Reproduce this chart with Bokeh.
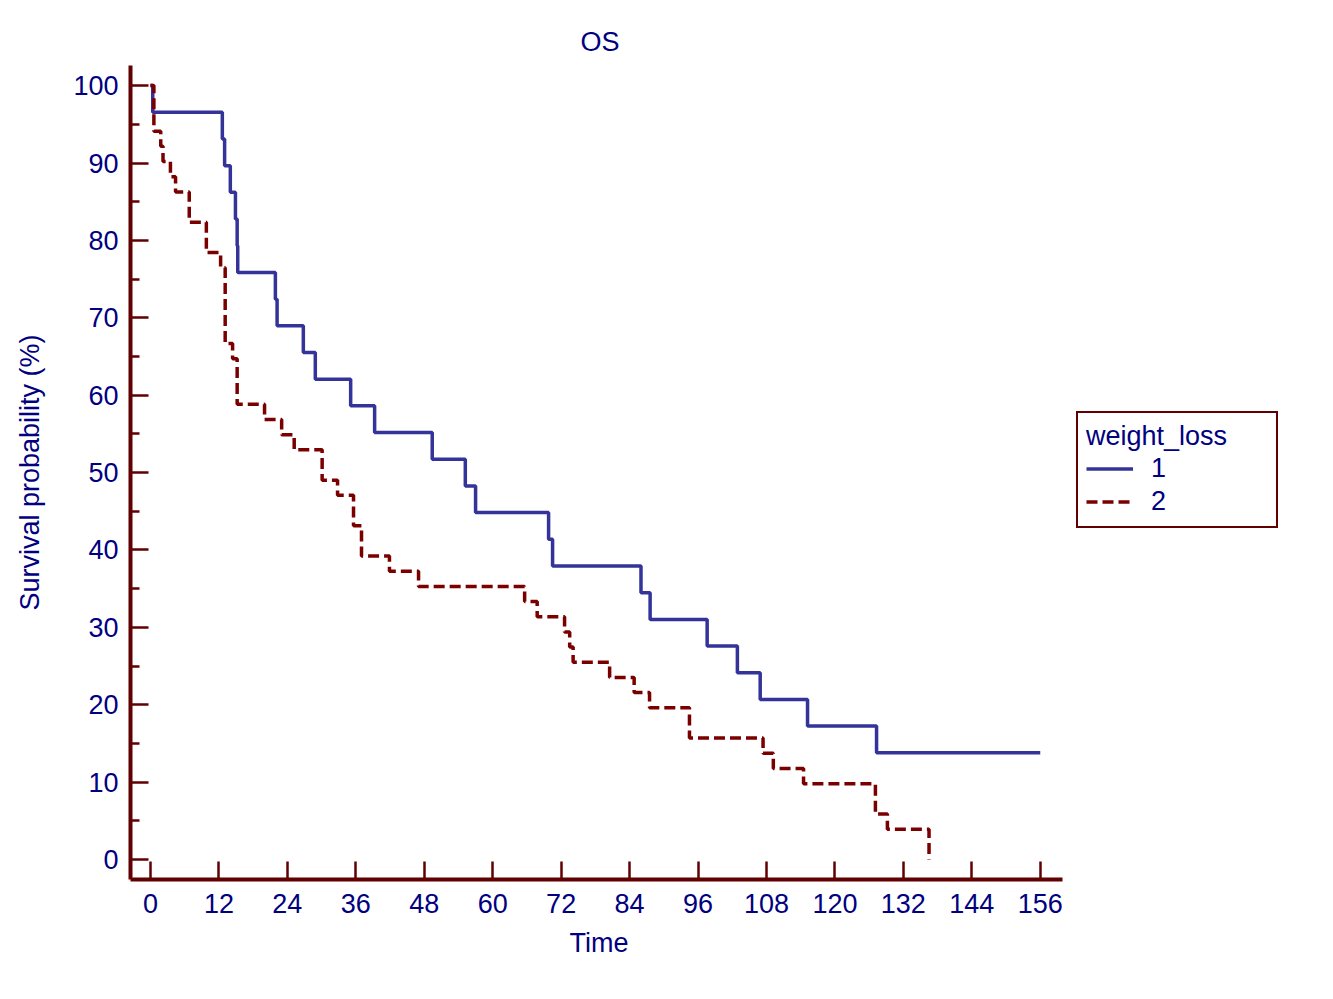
from bokeh.plotting import figure
from bokeh.models import Range1d, FixedTicker, Legend, LegendItem, Title
from bokeh.embed import file_html
from bokeh.resources import INLINE

# ---- data ----
group_labels = ["1", "2"]
legend_title = "weight_loss"

time_1 = [0, 0.4, 12.6, 13.0, 14.0, 14.9, 15.2, 15.3, 21.9, 22.2, 26.8, 28.9,
          35.1, 39.3, 49.4, 55.2, 57.0, 69.8, 70.5, 86.0, 87.6, 97.6, 102.9,
          106.9, 115.2, 127.3, 156.0]
surv_1 = [100, 96.55, 93.10, 89.66, 86.21, 82.76, 79.31, 75.86, 72.41, 68.97,
          65.52, 62.07, 58.62, 55.17, 51.72, 48.28, 44.83, 41.38, 37.93, 34.48,
          31.03, 27.59, 24.14, 20.69, 17.24, 13.79, 13.79]

time_2 = [0, 0.6, 1.8, 2.2, 3.5, 4.4, 6.8, 9.8, 12.3, 13.1, 14.4, 15.2, 20.0,
          23.0, 25.2, 30.1, 32.8, 35.6, 37.0, 41.9, 47.0, 65.6, 67.8, 72.6,
          73.5, 74.1, 80.5, 84.8, 87.5, 94.5, 107.4, 109.2, 114.5, 127.1,
          129.2, 136.5]
surv_2 = [100, 94.12, 92.16, 90.20, 88.24, 86.27, 82.35, 78.43, 76.47, 66.67,
          64.71, 58.82, 56.86, 54.90, 52.94, 49.02, 47.06, 43.14, 39.22, 37.25,
          35.29, 33.33, 31.37, 29.41, 27.45, 25.49, 23.53, 21.57, 19.61, 15.69,
          13.73, 11.76, 9.80, 5.88, 3.92, 0.0]

x_ticks = [0, 12, 24, 36, 48, 60, 72, 84, 96, 108, 120, 132, 144, 156]
y_ticks = [0, 10, 20, 30, 40, 50, 60, 70, 80, 90, 100]
y_minor = [5, 15, 25, 35, 45, 55, 65, 75, 85, 95]

# ---- styling / geometry ----
FONT = "Liberation Sans"
TXT = "#000080"
AX = "#600000"
BLUE = "#333399"
RED = "#7a0000"
FS = "27px"

W, H = 1325, 990
FL, FR, FT, FB = 130, 1300, 65, 879     # frame edges (pixels)
AXIS_END_PX = 1062                       # where the x axis line stops
X0, X_AXIS_END = -3.5, 159.9
ppu = (AXIS_END_PX - FL) / (X_AXIS_END - X0)
X1 = X0 + (FR - FL) / ppu

p = figure(width=W, height=H, output_backend="svg", toolbar_location=None,
           x_range=Range1d(X0, X1), y_range=Range1d(-2.58, 102.6),
           min_border_left=FL, min_border_right=W - FR,
           min_border_top=FT, min_border_bottom=H - FB)
p.outline_line_color = None
p.xgrid.visible = False
p.ygrid.visible = False
p.background_fill_color = "white"
p.border_fill_color = "white"

t_top = Title(text="OS", align="left", offset=580 - FL,
              text_font=FONT, text_font_size=FS, text_font_style="normal",
              text_color=TXT, standoff=18)
p.add_layout(t_top, "above")

for ax in (p.xaxis[0], p.yaxis[0]):
    ax.axis_line_color = AX
    ax.axis_line_width = 4
    ax.major_tick_line_color = AX
    ax.major_tick_line_width = 2.5
    ax.minor_tick_line_color = AX
    ax.minor_tick_line_width = 2.5
    ax.major_tick_in = 18
    ax.major_tick_out = 0
    ax.minor_tick_in = 9
    ax.minor_tick_out = 0
    ax.major_label_text_font = FONT
    ax.major_label_text_font_size = FS
    ax.major_label_text_color = TXT
    ax.axis_label_text_font = FONT
    ax.axis_label_text_font_size = FS
    ax.axis_label_text_font_style = "normal"
    ax.axis_label_text_color = TXT

p.xaxis.ticker = FixedTicker(ticks=x_ticks, minor_ticks=[])
p.yaxis.ticker = FixedTicker(ticks=y_ticks, minor_ticks=y_minor)
p.xaxis.bounds = (X0, X_AXIS_END)
p.yaxis.axis_label = "Survival probability (%)"
p.xaxis.major_label_standoff = 14
p.yaxis.major_label_standoff = 12
p.yaxis.axis_label_standoff = 25

t_bottom = Title(text="Time", align="left", offset=569 - FL,
                 text_font=FONT, text_font_size=FS, text_font_style="normal",
                 text_color=TXT, standoff=20)
p.add_layout(t_bottom, "below")

r1 = p.step(time_1, surv_1, mode="after", line_color=BLUE, line_width=3.5)
r2 = p.step(time_2, surv_2, mode="after", line_color=RED, line_width=3.5,
            line_dash="11 5")

legend = Legend(items=[LegendItem(label=group_labels[0], renderers=[r1]),
                       LegendItem(label=group_labels[1], renderers=[r2])],
                title=legend_title, orientation="vertical",
                location=(1076 - FL, FB - 528))
legend.title_text_font = FONT
legend.title_text_font_size = FS
legend.title_text_font_style = "normal"
legend.title_text_color = TXT
legend.label_text_font = FONT
legend.label_text_font_size = FS
legend.label_text_color = TXT
legend.border_line_color = AX
legend.border_line_alpha = 1.0
legend.border_line_width = 2
legend.background_fill_color = "white"
legend.background_fill_alpha = 1.0
legend.padding = 8
legend.spacing = 0
legend.margin = 0
legend.glyph_width = 47
legend.glyph_height = 33
legend.label_height = 33
legend.label_standoff = 18
legend.label_width = 117
legend.title_standoff = 0
p.add_layout(legend)

open("out.html", "w").write(file_html(p, INLINE))
